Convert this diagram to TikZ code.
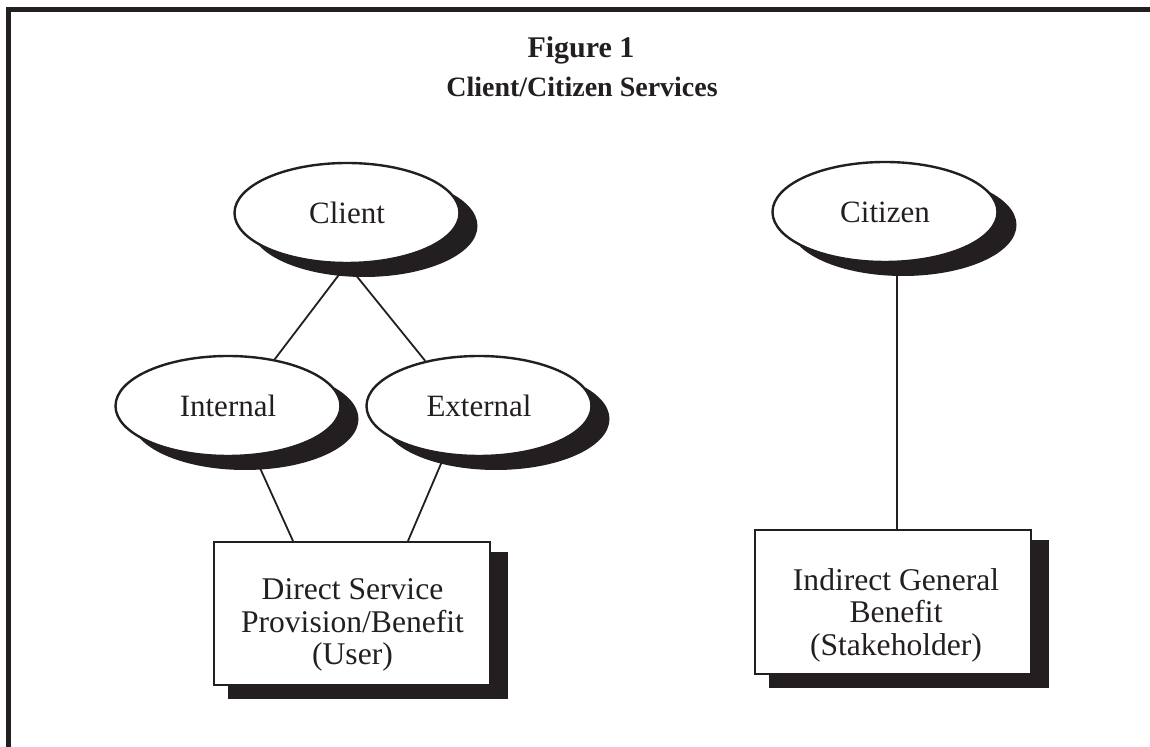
\documentclass[tikz,border=0pt]{standalone}
\usepackage{fontspec}
\setmainfont{Liberation Serif}
\usetikzlibrary{shapes.geometric,calc}
\definecolor{ink}{HTML}{231F20}
\pgfdeclarelayer{bg}
\pgfsetlayers{bg,main}
\begin{document}
\begin{tikzpicture}[x=0.5pt,y=-0.5pt,
  oval/.style={ellipse, draw=ink, line width=1.2pt, fill=white, minimum width=112.5pt, minimum height=50pt, inner sep=0pt, font=\fontsize{15.5}{18}\selectfont, text=ink},
  ovalshadow/.style={ellipse, fill=ink, minimum width=113.5pt, minimum height=51pt, inner sep=0pt},
  card/.style={rectangle, draw=ink, line width=1pt, fill=white, minimum width=138pt, minimum height=71.5pt, inner sep=0pt},
  cardshadow/.style={rectangle, fill=ink, minimum width=140pt, minimum height=73.5pt, inner sep=0pt},
  cardtext/.style={align=center, font=\fontsize{15.8}{16.3}\selectfont, text=ink, inner sep=0pt},
  titletext/.style={anchor=base, inner sep=0pt, text=ink},
  link/.style={draw=ink, line width=0.9pt},
  frame/.style={draw=ink, line width=2.75pt, line join=miter}]
\useasboundingbox (0,0) rectangle (1150,747);
% frame
\draw[frame] (8.5,760) -- (8.5,9.5) -- (1160,9.5);
% title
\node[titletext, font=\fontsize{15}{18}\selectfont\bfseries] (fig) at (581,58) {Figure 1};
\node[titletext, font=\fontsize{14}{17}\selectfont\bfseries] (sub) at (582,96.5) {Client/Citizen Services};
% shadows
\node[ovalshadow] (clientsh) at (364,226) {};
\node[ovalshadow] (internalsh) at (245,419) {};
\node[ovalshadow] (externalsh) at (496,419) {};
\node[ovalshadow] (citizensh) at (903,225) {};
\node[cardshadow] (directsh) at (368,625.5) {};
\node[cardshadow] (indirectsh) at (908.5,614) {};
% ovals
\node[oval] (client) at (347,213) {Client};
\node[oval] (internal) at (228,406) {Internal};
\node[oval] (external) at (479,406) {External};
\node[oval] (citizen) at (885,212) {Citizen};
% boxes
\node[card] (direct) at (352,613.5) {};
\node[card] (indirect) at (892.5,602) {};
\node[cardtext] (directtxt) at (352.5,625) {Direct Service\\Provision/Benefit\\(User)};
\node[cardtext] (indirecttxt) at (896,615) {Indirect General\\Benefit\\(Stakeholder)};
% connectors
\begin{pgfonlayer}{bg}
\draw[link] (client.south) -- (internal.45);
\draw[link] (client.south) -- (external.140);
\draw[link] (internal.298) -- ([xshift=-29.5pt]direct.north);
\draw[link] (external.235) -- ([xshift=28pt]direct.north);
\draw[link] ([xshift=6pt]citizen.south) -- ([xshift=6pt]citizen.south |- indirect.north);
\end{pgfonlayer}
\end{tikzpicture}
\end{document}
